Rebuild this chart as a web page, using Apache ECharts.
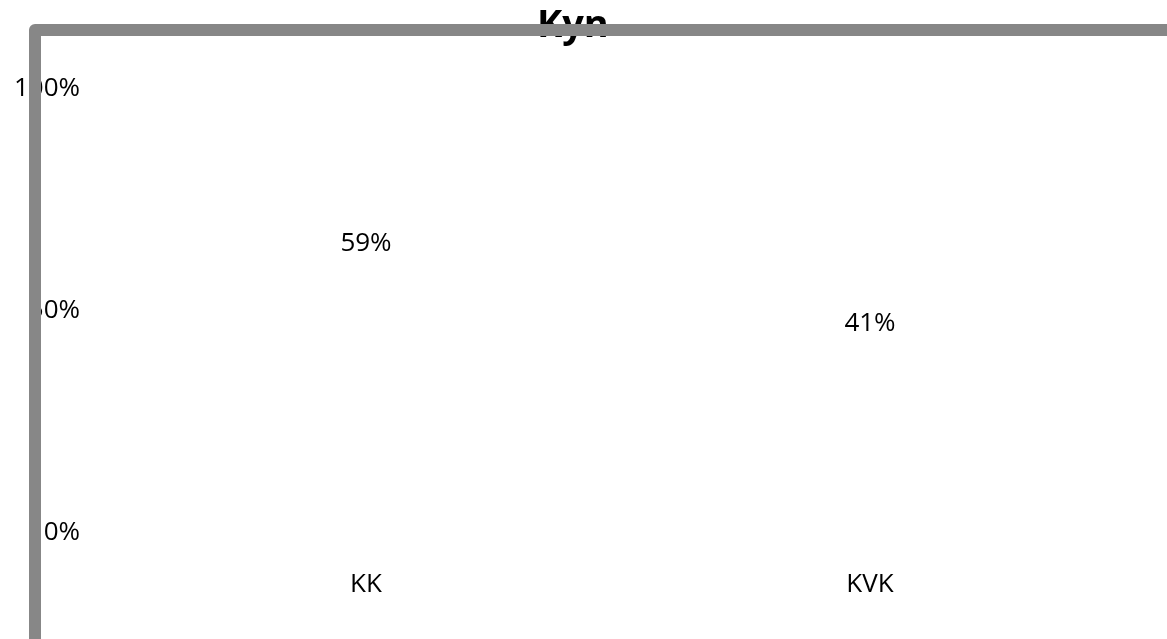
<!DOCTYPE html>
<html>
<head>
<meta charset="utf-8">
<script src="https://cdn.jsdelivr.net/npm/echarts@6/dist/echarts.min.js"></script>
<style>html,body{margin:0;padding:0;background:#fff}#c{width:1167px;height:639px}</style>
</head>
<body>
<div id="c"></div>
<script>
const titleText = 'Kyn';
const categories = ['KK', 'KVK'];
const values = [0.59, 0.41];
const yTicks = [0, 0.5, 1];

const FONT = 'Open Sans';
const chart = echarts.init(document.getElementById('c'), null, {renderer: 'canvas'});
chart.setOption({
  backgroundColor: '#ffffff',
  animation: false,
  title: {
    text: titleText,
    left: 532,
    top: 2,
    textStyle: {fontFamily: FONT, fontWeight: 'bold', fontSize: 38, color: '#000'}
  },
  grid: {left: 114, right: 45, top: 89, bottom: 106, containLabel: false, outerBoundsMode: 'none'},
  xAxis: {
    type: 'category',
    data: categories,
    axisLine: {show: false},
    axisTick: {show: false},
    axisLabel: {fontFamily: FONT, fontSize: 26, color: '#000', margin: 39}
  },
  yAxis: {
    type: 'value',
    min: yTicks[0],
    max: yTicks[yTicks.length - 1],
    interval: yTicks[1] - yTicks[0],
    axisLine: {show: false},
    axisTick: {show: false},
    splitLine: {show: false},
    axisLabel: {
      fontFamily: FONT, fontSize: 26, color: '#000', margin: 34,
      formatter: v => Math.round(v * 100) + '%'
    }
  },
  series: [{
    type: 'bar',
    data: values,
    barWidth: '50%',
    itemStyle: {color: 'rgba(0,0,0,0)'},
    label: {
      show: true,
      position: 'top',
      distance: 14,
      fontFamily: FONT, fontSize: 26, color: '#000',
      formatter: p => Math.round(p.value * 100) + '%'
    }
  }],
  graphic: [{
    type: 'rect',
    z: 100,
    silent: true,
    shape: {x: 35, y: 30, width: 1300, height: 800, r: 0},
    style: {fill: 'none', stroke: '#878787', lineWidth: 12, lineJoin: 'round'}
  }]
});
</script>
</body>
</html>
